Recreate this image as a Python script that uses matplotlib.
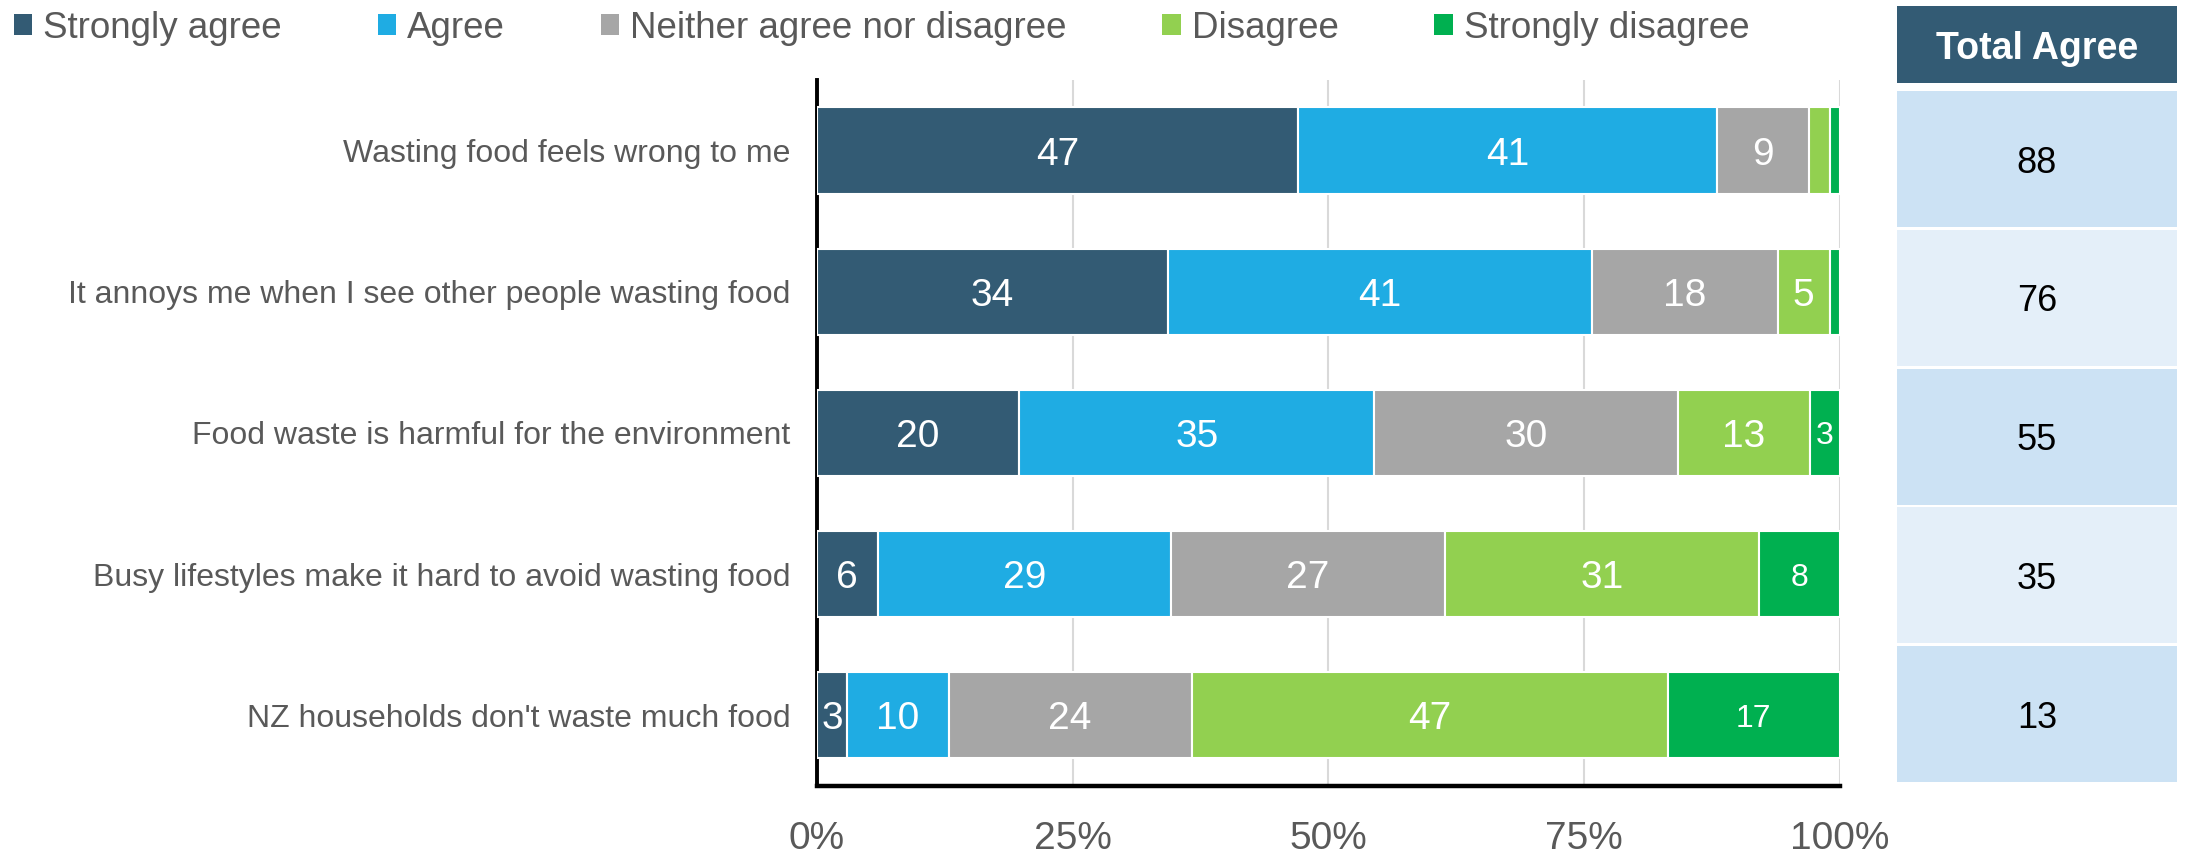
import numpy as np
import matplotlib
matplotlib.use('Agg')
import matplotlib.pyplot as plt
from matplotlib.patches import Patch, Rectangle
from matplotlib.ticker import PercentFormatter

# Survey statements, top to bottom
statements = [
    "Wasting food feels wrong to me",
    "It annoys me when I see other people wasting food",
    "Food waste is harmful for the environment",
    "Busy lifestyles make it hard to avoid wasting food",
    "NZ households don't waste much food",
]
responses = ["Strongly agree", "Agree", "Neither agree nor disagree",
             "Disagree", "Strongly disagree"]

# Response counts (%) per statement
strongly_agree = [47, 34, 20, 6, 3]
agree = [41, 41, 35, 29, 10]
neither = [9, 18, 30, 27, 24]
disagree = [2, 5, 13, 31, 47]
strongly_disagree = [1, 1, 3, 8, 17]
total_agree = [88, 76, 55, 35, 13]

colors = ['#335B74', '#1FACE3', '#A6A6A6', '#92D050', '#00B050']
GREY_TEXT = '#595959'


def draw_bars(ax):
    series = [strongly_agree, agree, neither, disagree, strongly_disagree]
    counts = np.array(series, dtype=float)
    shares = counts / counts.sum(axis=0)  # 100% stacked
    y = np.arange(len(statements))
    left = np.zeros(len(statements))

    for k, (name, vals, share, color) in enumerate(zip(responses, series, shares, colors)):
        bars = ax.barh(y, share, left=left, height=0.61, color=color,
                       edgecolor='white', linewidth=1.5, zorder=3, label=name)
        size = 23 if k == len(series) - 1 else 28
        for rect, v in zip(bars, vals):
            if v < 3:
                continue  # too thin for a label
            ax.text(rect.get_x() + rect.get_width() / 2,
                    rect.get_y() + rect.get_height() / 2,
                    str(v), ha='center', va='center_baseline',
                    color='white', fontsize=size, zorder=4)
        left += share

    ax.set_xlim(0, 1)
    ax.set_ylim(len(statements) - 0.5, -0.5)
    ax.set_xticks([0, 0.25, 0.5, 0.75, 1.0])
    ax.xaxis.set_major_formatter(PercentFormatter(1.0, decimals=0))
    ax.set_yticks(y)
    ax.set_yticklabels(statements)

    ax.tick_params(axis='x', length=0, labelsize=28, labelcolor=GREY_TEXT, pad=25)
    ax.tick_params(axis='y', length=0, labelsize=23, labelcolor=GREY_TEXT, pad=19)

    ax.xaxis.grid(True, color='#D9D9D9', linewidth=1.5)
    ax.set_axisbelow(True)
    for side in ('top', 'right'):
        ax.spines[side].set_visible(False)
    ax.spines['left'].set_linewidth(2.8)
    ax.spines['bottom'].set_linewidth(3.2)
    ax.spines['left'].set_color('black')
    ax.spines['bottom'].set_color('black')


def draw_total_table(tab):
    n = len(total_agree)
    tab.set_xlim(0, 1)
    tab.set_ylim(n - 0.5, -0.5)
    tab.axis('off')

    for i, v in enumerate(total_agree):
        shade = '#CCE2F4' if i % 2 == 0 else '#E4EFF9'
        tab.add_patch(Rectangle((0, i - 0.49), 1, 0.98, facecolor=shade, edgecolor='none'))
        tab.text(0.5, i, str(v), ha='center', va='center_baseline',
                 fontsize=26, color='black')

    # header box sits above the cells
    tab.add_patch(Rectangle((0, -1.102), 1, 0.554, facecolor=colors[0],
                            edgecolor='none', clip_on=False))
    tab.text(0.5, -0.825, 'Total Agree', ha='center', va='center_baseline',
             fontsize=27, fontweight='bold', color='white', clip_on=False)


def main():
    plt.rcParams['font.family'] = ['Liberation Sans', 'DejaVu Sans']

    fig = plt.figure(figsize=(21.93, 8.56), dpi=100)
    ax = fig.add_axes([0.3725, 0.0818, 0.4665, 0.8248])
    draw_bars(ax)

    tab = fig.add_axes([0.865, 0.0848, 0.1277, 0.8105])
    draw_total_table(tab)

    handles = [Patch(facecolor=c, label=n) for n, c in zip(responses, colors)]
    fig.legend(handles=handles, loc='center left', bbox_to_anchor=(0.0064, 0.967),
               ncol=5, frameon=False, fontsize=26.5, handlelength=0.5,
               handleheight=0.5, handletextpad=0.3, columnspacing=2.6,
               borderpad=0, borderaxespad=0, labelcolor=GREY_TEXT)

    fig.savefig('out.png', dpi=100)
    plt.close(fig)


if __name__ == '__main__':
    main()
